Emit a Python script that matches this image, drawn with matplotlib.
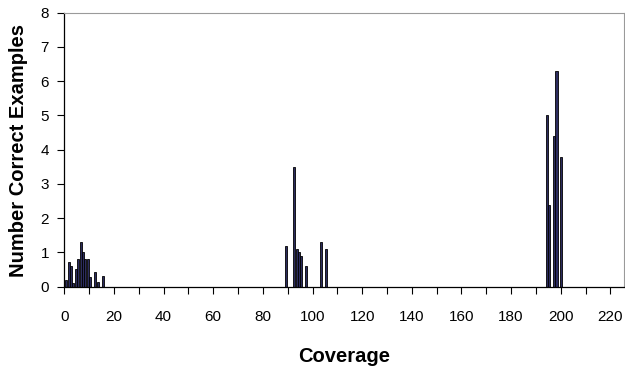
import matplotlib.pyplot as plt
from matplotlib.ticker import MultipleLocator

# ─── Data ───────────────────────────────────────────────────────────────────

coverage = [0.7, 1.8, 2.7, 3.6, 4.7, 5.5, 6.7, 7.5, 8.5, 9.4, 10.4, 12.5, 13.4, 15.7,
            89.4, 92.4, 93.6, 94.4, 95.4, 97.5, 103.4, 105.4,
            194.5, 195.3, 197.2, 198.3, 200.2]
n_correct = [0.21, 0.72, 0.6, 0.12, 0.51, 0.8, 1.31, 1.01, 0.81, 0.81, 0.29, 0.42, 0.13, 0.31,
             1.2, 3.5, 1.1, 1.0, 0.9, 0.6, 1.31, 1.1,
             5.0, 2.38, 4.4, 6.3, 3.8]

x_ticks = list(range(0, 221, 20))
y_ticks = list(range(0, 9))

# ─── Plot ───────────────────────────────────────────────────────────────────

plt.rcParams["font.family"] = ["Liberation Sans", "DejaVu Sans"]

fig = plt.figure(figsize=(6.25, 3.68), dpi=100)
ax = fig.add_axes([0.1029, 0.2209, 0.8955, 0.7446])

ax.bar(coverage, n_correct, width=0.85, color="#2b2b5e", edgecolor="black",
       linewidth=0.6, align="center")

ax.set_xlim(0, 225.5)
ax.set_ylim(0, 8)
ax.set_xticks(x_ticks)
ax.xaxis.set_minor_locator(MultipleLocator(10))
ax.set_yticks(y_ticks)

ax.tick_params(axis="both", which="both", direction="out", length=5,
               width=0.8, labelsize=11)
ax.tick_params(axis="y", pad=6)
ax.tick_params(axis="x", which="major", pad=11.5)

# axis titles placed in figure coords
fig.text(344 / 625, 0.031, "Coverage", fontsize=14.5, fontweight="bold",
         ha="center", va="center")
fig.text(19 / 625, 0.592, "Number Correct Examples", fontsize=14.5,
         fontweight="bold", ha="center", va="center", rotation=90)

for side in ["top", "right"]:
    ax.spines[side].set_color("#9a9a9a")
for side in ["left", "bottom"]:
    ax.spines[side].set_color("black")
    ax.spines[side].set_linewidth(0.9)

fig.savefig("out.png", dpi=100)
